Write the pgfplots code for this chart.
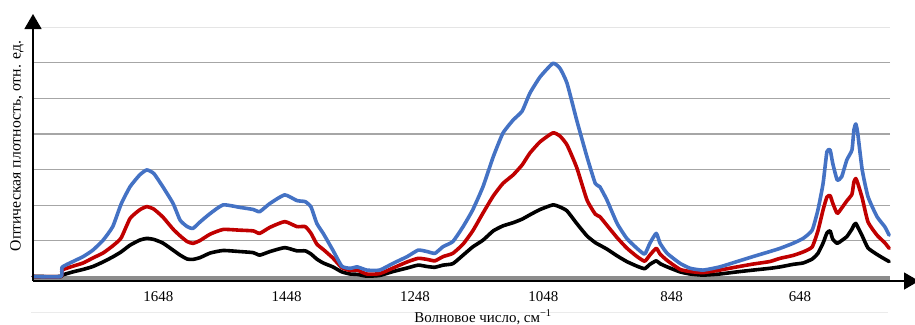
\documentclass[border=0pt]{standalone}
\usepackage{pgfplots}
\pgfplotsset{compat=1.18}
\usepackage{pgfplotstable}
\usepackage{fontspec}
\setmainfont{Liberation Serif}
\usetikzlibrary{arrows.meta}
\definecolor{cblue}{RGB}{68,114,196}
\definecolor{cred}{RGB}{192,0,0}
\definecolor{cgrid}{RGB}{166,166,166}
\definecolor{cbase}{RGB}{140,140,140}

\pgfplotstableread{
w b r k
1843 0 0 0
1800 0 0 0
1798 0.26 0.18 0.04
1781 0.42 0.29 0.13
1765 0.56 0.38 0.20
1750 0.74 0.52 0.28
1734 1.02 0.66 0.41
1719 1.40 0.86 0.55
1706 2.03 1.08 0.69
1692 2.52 1.63 0.88
1677 2.85 1.87 1.02
1666 2.99 1.96 1.07
1655 2.89 1.89 1.04
1641 2.52 1.67 0.94
1625 2.05 1.33 0.74
1614 1.58 1.14 0.60
1603 1.40 0.98 0.49
1594 1.35 0.93 0.48
1583 1.53 1.01 0.53
1567 1.77 1.19 0.66
1547 2.01 1.32 0.73
1521 1.94 1.30 0.70
1500 1.88 1.28 0.67
1490 1.82 1.21 0.60
1474 2.05 1.38 0.70
1451 2.29 1.54 0.81
1432 2.13 1.40 0.72
1419 2.10 1.40 0.72
1410 1.95 1.21 0.63
1401 1.49 0.91 0.49
1391 1.21 0.76 0.38
1376 0.74 0.52 0.27
1362 0.29 0.25 0.13
1349 0.23 0.17 0.07
1338 0.27 0.18 0.06
1323 0.18 0.07 0.01
1303 0.18 0.08 0.03
1282 0.37 0.24 0.14
1260 0.56 0.41 0.24
1243 0.74 0.51 0.32
1229 0.70 0.48 0.28
1217 0.65 0.44 0.26
1204 0.84 0.56 0.32
1189 0.98 0.65 0.36
1173 1.40 0.91 0.60
1158 1.87 1.28 0.83
1142 2.52 1.78 1.02
1126 3.36 2.26 1.28
1111 4.02 2.61 1.42
1095 4.39 2.85 1.51
1081 4.64 3.13 1.61
1069 5.14 3.46 1.73
1053 5.60 3.78 1.88
1033 5.98 4.03 2.01
1022 5.84 3.94 1.95
1011 5.42 3.69 1.84
996 4.39 3.06 1.49
980 3.36 2.15 1.14
967 2.61 1.75 0.95
960 2.52 1.68 0.88
949 2.15 1.44 0.77
933 1.49 1.09 0.58
918 1.07 0.80 0.42
902 0.79 0.56 0.29
890 0.63 0.43 0.22
882 0.93 0.60 0.34
872 1.21 0.79 0.44
866 0.93 0.63 0.36
855 0.65 0.45 0.27
835 0.37 0.20 0.13
819 0.23 0.14 0.07
799 0.18 0.11 0.04
773 0.27 0.18 0.07
746 0.42 0.27 0.13
721 0.56 0.35 0.18
695 0.70 0.42 0.23
679 0.79 0.51 0.27
659 0.93 0.59 0.34
643 1.07 0.69 0.38
629 1.30 0.83 0.49
620 1.87 1.28 0.65
612 2.61 1.87 0.94
606 3.50 2.23 1.22
601 3.55 2.27 1.28
597 3.18 2.06 1.05
590 2.71 1.77 0.93
583 2.80 1.92 1.01
575 3.27 2.12 1.12
567 3.55 2.31 1.33
564 4.11 2.65 1.44
561 4.28 2.75 1.49
558 4.02 2.62 1.39
551 2.99 2.20 1.14
542 2.24 1.53 0.80
528 1.68 1.16 0.62
516 1.40 0.95 0.49
509 1.16 0.79 0.42
}\spectra

\begin{document}
\begin{tikzpicture}[x=1bp,y=1bp]
\useasboundingbox (0,0) rectangle (915,324);
\begin{axis}[
  at={(33bp,43bp)}, anchor=south west,
  scale only axis, width=857bp, height=254bp,
  x dir=reverse, xmin=507.7, xmax=1843.3,
  ymin=-0.126, ymax=7,
  clip=false,
  axis line style={draw=none},
  tick style={draw=none},
  ytick={1,2,3,4,5,6}, yticklabels={},
  ymajorgrids,
  grid style={cgrid, line width=1.2bp},
  extra y ticks={7}, extra y tick labels={},
  extra y tick style={grid style={black!10, line width=0.8bp}},
  xtick={648,848,1048,1248,1448,1648},
  xticklabels={648,848,1048,1248,1448,1648},
  xticklabel style={anchor=base, yshift=-20bp, font=\fontsize{15}{15}\selectfont},
]
\addplot[cbase, line width=4bp, mark=none] coordinates {(1843.3,-0.03) (507.7,-0.03)};
\addplot[black, line width=3.6bp, line join=round, line cap=round, mark=none, smooth, tension=0.3] table[x=w,y=k] {\spectra};
\addplot[cred, line width=3.6bp, line join=round, line cap=round, mark=none, smooth, tension=0.3] table[x=w,y=r] {\spectra};
\addplot[cblue, line width=3.6bp, line join=round, line cap=round, mark=none, smooth, tension=0.3] table[x=w,y=b] {\spectra};
\end{axis}
\draw[black!8, line width=0.8bp] (31,12) -- (888,12);
\draw[line width=1.4bp, -{Triangle[width=17bp,length=15bp]}] (33,43) -- (33,310);
\draw[line width=1.4bp, -{Triangle[width=17bp,length=15bp]}] (33,43) -- (919,43);
\node[rotate=90, anchor=base, font=\fontsize{15.8}{15.8}\selectfont] at (20.5,178) {Оптическая плотность, отн. ед.};
\node[anchor=base, font=\fontsize{15}{15}\selectfont] at (483,2) {Волновое число, см\textsuperscript{\char"2212 1}};
\end{tikzpicture}
\end{document}
